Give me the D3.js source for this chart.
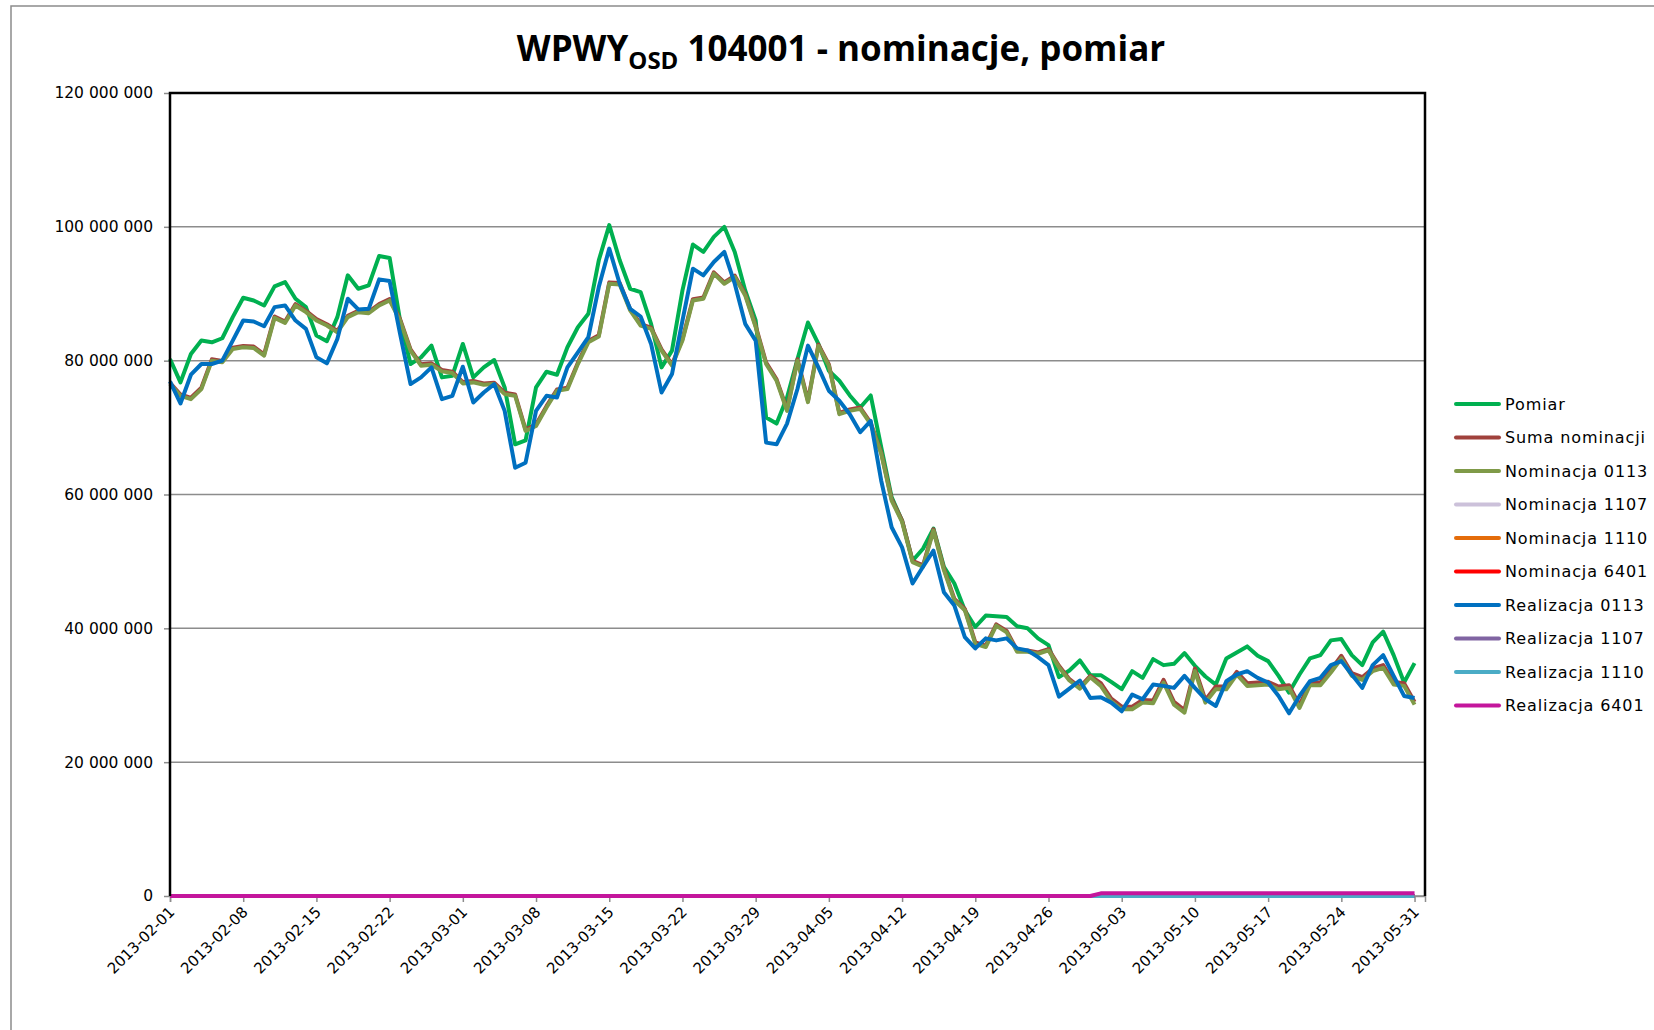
<!DOCTYPE html>
<html>
<head>
<meta charset="utf-8">
<script src="https://cdn.jsdelivr.net/npm/d3@7"></script>
<style>
  html, body { margin: 0; padding: 0; background: #fff; }
  svg { display: block; }
</style>
</head>
<body>
<svg id="chart" width="1654" height="1030"></svg>
<script>
// wartości w milionach
const UNIT = 1e6

const startDate = "2013-02-01"
const endDate = "2013-06-01"

const tickLabels = [
  "2013-02-01", "2013-02-08", "2013-02-15", "2013-02-22", "2013-03-01", "2013-03-08",
  "2013-03-15", "2013-03-22", "2013-03-29", "2013-04-05", "2013-04-12", "2013-04-19",
  "2013-04-26", "2013-05-03", "2013-05-10", "2013-05-17", "2013-05-24", "2013-05-31"
]

const yTicks = [0, 20, 40, 60, 80, 100, 120]

const pomiar = [
  80.25, 76.75, 81.0, 83.0, 82.75, 83.35, 86.5, 89.4, 89.0, 88.25,
  91.1, 91.75, 89.25, 88.0, 83.75, 82.9, 86.5, 92.75, 90.75, 91.25,
  95.65, 95.35, 86.0, 79.5, 80.5, 82.25, 77.5, 77.75, 82.5, 77.5,
  79.0, 80.1, 76.0, 67.5, 68.1, 76.0, 78.35, 77.9, 82.0, 85.0,
  87.0, 95.0, 100.25, 95.0, 90.75, 90.25, 85.5, 79.0, 81.5, 90.5,
  97.35, 96.25, 98.5, 100.0, 96.25, 90.5, 86.0, 71.5, 70.6, 74.5,
  80.25, 85.7, 82.5, 78.5, 77.0, 74.8, 73.0, 74.8, 67.1, 59.6,
  56.1, 50.1, 51.9, 54.9, 49.2, 46.7, 42.7, 40.2, 41.9, 41.8,
  41.7, 40.3, 40.0, 38.5, 37.5, 32.7, 33.7, 35.2, 33.0, 33.0,
  32.0, 30.9, 33.6, 32.6, 35.4, 34.5, 34.7, 36.3, 34.4, 32.8,
  31.6, 35.5, 36.4, 37.3, 35.9, 35.1, 32.9, 30.4, 33.1, 35.5,
  36.0, 38.2, 38.4, 36.0, 34.5, 37.9, 39.5, 36.0, 31.9, 34.8
]

const sumaNominacji = [
  76.7, 74.95, 74.45, 75.95, 80.2, 79.95, 81.95, 82.2, 82.1, 80.95,
  86.6, 85.85, 88.45, 87.45, 86.2, 85.45, 84.45, 86.7, 87.45, 87.3,
  88.45, 89.2, 86.2, 81.7, 79.45, 79.6, 78.6, 78.35, 76.8, 76.95,
  76.6, 76.7, 75.2, 74.95, 69.7, 70.45, 73.2, 75.7, 75.95, 79.7,
  82.95, 83.8, 91.7, 91.6, 87.7, 85.45, 84.95, 81.7, 79.45, 83.2,
  89.2, 89.45, 93.2, 91.7, 92.7, 89.95, 85.2, 79.7, 77.2, 72.7,
  80.2, 74.0, 82.4, 79.45, 72.2, 72.7, 73.0, 70.7, 66.3, 59.3,
  56.1, 50.1, 49.4, 54.8, 48.9, 44.4, 42.9, 37.9, 37.4, 40.6,
  39.6, 36.7, 36.7, 36.4, 36.9, 34.4, 32.4, 31.2, 32.9, 31.8,
  29.5, 28.3, 28.3, 29.3, 29.2, 32.3, 29.0, 27.8, 34.0, 29.3,
  31.3, 31.3, 33.5, 31.8, 31.9, 32.0, 31.3, 31.5, 28.5, 31.9,
  31.9, 33.8, 35.9, 33.3, 32.7, 34.0, 34.5, 32.0, 31.8, 29.0
]

const nominacja0113 = [
  76.5, 74.75, 74.25, 75.75, 80.0, 79.75, 81.75, 82.0, 81.9, 80.75,
  86.4, 85.65, 88.25, 87.25, 86.0, 85.25, 84.25, 86.5, 87.25, 87.1,
  88.25, 89.0, 86.0, 81.5, 79.25, 79.4, 78.4, 78.15, 76.6, 76.75,
  76.4, 76.5, 75.0, 74.75, 69.5, 70.25, 73.0, 75.5, 75.75, 79.5,
  82.75, 83.6, 91.5, 91.4, 87.5, 85.25, 84.75, 81.5, 79.25, 83.0,
  89.0, 89.25, 93.0, 91.5, 92.5, 89.75, 85.0, 79.5, 77.0, 72.5,
  80.0, 73.8, 82.2, 79.25, 72.0, 72.5, 72.8, 70.5, 66.1, 59.1,
  55.9, 49.9, 49.2, 54.6, 48.7, 44.2, 42.7, 37.7, 37.2, 40.4,
  39.4, 36.5, 36.5, 36.2, 36.7, 34.2, 32.2, 31.0, 32.7, 31.4,
  29.1, 27.9, 27.9, 28.9, 28.8, 31.9, 28.6, 27.4, 33.6, 28.9,
  30.9, 30.9, 33.1, 31.4, 31.5, 31.6, 30.9, 31.1, 28.1, 31.5,
  31.5, 33.4, 35.5, 32.9, 32.3, 33.6, 34.1, 31.6, 31.4, 28.6
]

const zera = [
  0, 0, 0, 0, 0, 0, 0, 0, 0, 0, 0, 0, 0, 0, 0, 0, 0, 0, 0, 0,
  0, 0, 0, 0, 0, 0, 0, 0, 0, 0, 0, 0, 0, 0, 0, 0, 0, 0, 0, 0,
  0, 0, 0, 0, 0, 0, 0, 0, 0, 0, 0, 0, 0, 0, 0, 0, 0, 0, 0, 0,
  0, 0, 0, 0, 0, 0, 0, 0, 0, 0, 0, 0, 0, 0, 0, 0, 0, 0, 0, 0,
  0, 0, 0, 0, 0, 0, 0, 0, 0, 0, 0, 0, 0, 0, 0, 0, 0, 0, 0, 0,
  0, 0, 0, 0, 0, 0, 0, 0, 0, 0, 0, 0, 0, 0, 0, 0, 0, 0, 0, 0
]
const nominacja1107 = zera
const nominacja1110 = zera
const nominacja6401 = zera

const realizacja0113 = [
  76.9, 73.6, 77.9, 79.5, 79.5, 80.0, 83.0, 86.0, 85.85, 85.15,
  88.0, 88.25, 86.0, 84.75, 80.5, 79.6, 83.25, 89.25, 87.65, 87.75,
  92.15, 91.9, 84.0, 76.5, 77.5, 79.0, 74.25, 74.75, 79.1, 73.75,
  75.25, 76.5, 72.5, 64.0, 64.75, 72.5, 74.75, 74.5, 79.0, 81.25,
  83.5, 91.0, 96.75, 91.5, 87.75, 86.6, 82.5, 75.25, 78.0, 86.0,
  93.75, 92.75, 94.75, 96.25, 91.5, 85.5, 83.0, 67.75, 67.5, 70.6,
  75.8, 82.25, 79.0, 75.5, 74.0, 72.0, 69.3, 71.0, 62.1, 55.1,
  52.1, 46.7, 49.2, 51.6, 45.4, 43.4, 38.7, 37.0, 38.5, 38.2,
  38.5, 37.0, 36.7, 35.7, 34.5, 29.8, 31.0, 32.2, 29.6, 29.7,
  28.9, 27.6, 30.1, 29.4, 31.6, 31.4, 31.1, 32.9, 31.1, 29.4,
  28.4, 32.1, 33.1, 33.6, 32.6, 31.9, 29.9, 27.3, 29.9, 32.1,
  32.6, 34.5, 35.1, 33.1, 31.1, 34.5, 36.0, 32.9, 29.9, 29.6
]

const realizacja1107 = zera
const realizacja1110 = zera

const realizacja6401 = [
  0, 0, 0, 0, 0, 0, 0, 0, 0, 0, 0, 0, 0, 0, 0, 0, 0, 0, 0, 0,
  0, 0, 0, 0, 0, 0, 0, 0, 0, 0, 0, 0, 0, 0, 0, 0, 0, 0, 0, 0,
  0, 0, 0, 0, 0, 0, 0, 0, 0, 0, 0, 0, 0, 0, 0, 0, 0, 0, 0, 0,
  0, 0, 0, 0, 0, 0, 0, 0, 0, 0, 0, 0, 0, 0, 0, 0, 0, 0, 0, 0,
  0, 0, 0, 0, 0, 0, 0, 0, 0, 0.4, 0.4, 0.4, 0.4, 0.4, 0.4, 0.4, 0.4, 0.4, 0.4, 0.4,
  0.4, 0.4, 0.4, 0.4, 0.4, 0.4, 0.4, 0.4, 0.4, 0.4, 0.4, 0.4, 0.4, 0.4, 0.4, 0.4, 0.4, 0.4, 0.4, 0.4
]

const series = [
  { name: "Pomiar", values: pomiar, color: "#00B050" },
  { name: "Suma nominacji", values: sumaNominacji, color: "#A0413C" },
  { name: "Nominacja 0113", values: nominacja0113, color: "#7F9A48" },
  { name: "Nominacja 1107", values: nominacja1107, color: "#CCC1DA" },
  { name: "Nominacja 1110", values: nominacja1110, color: "#E46C0A" },
  { name: "Nominacja 6401", values: nominacja6401, color: "#FF0000" },
  { name: "Realizacja 0113", values: realizacja0113, color: "#0070C0" },
  { name: "Realizacja 1107", values: realizacja1107, color: "#8064A2" },
  { name: "Realizacja 1110", values: realizacja1110, color: "#4BACC6" },
  { name: "Realizacja 6401", values: realizacja6401, color: "#C4169C" }
]

const parse = d3.utcParse("%Y-%m-%d")
const dates = d3.utcDay.range(parse(startDate), parse(endDate))

const plot = { left: 170, right: 1425, top: 93, bottom: 896 }
const font = "DejaVu Sans, sans-serif"

const svg = d3.select("#chart")

const x = d3.scaleUtc()
  .domain([parse(startDate), parse(endDate)])
  .range([plot.left, plot.right])

const y = d3.scaleLinear()
  .domain([0, 120 * UNIT])
  .range([plot.bottom, plot.top])

const fmt = d3.formatLocale({ decimal: ",", thousands: " ", grouping: [3], currency: ["", ""] }).format(",.0f")

// ramka wykresu
svg.append("path")
  .attr("d", "M11,1030 V6 H1654")
  .attr("fill", "none")
  .attr("stroke", "#8c8c8c")
  .attr("stroke-width", 1.5)

// tytuł
const title = svg.append("text")
  .attr("x", 841)
  .attr("y", 61)
  .attr("text-anchor", "middle")
  .attr("font-family", "Open Sans, sans-serif")
  .attr("font-weight", "bold")
  .attr("font-size", 35)
  .attr("fill", "#000")
title.append("tspan").text("WPWY")
title.append("tspan").attr("font-size", 24).attr("dy", 8).text("OSD")
title.append("tspan").attr("dy", -8).text(" 104001 - nominacje, pomiar")

// siatka
svg.append("g")
  .selectAll("line")
  .data(yTicks)
  .join("line")
  .attr("x1", plot.left)
  .attr("x2", plot.right)
  .attr("y1", d => y(d * UNIT))
  .attr("y2", d => y(d * UNIT))
  .attr("stroke", "#8c8c8c")
  .attr("stroke-width", 1.5)

// oś Y
const yAxis = svg.append("g")
  .attr("transform", `translate(${plot.left},0)`)
  .call(d3.axisLeft(y)
    .tickValues(yTicks.map(d => d * UNIT))
    .tickSize(6)
    .tickPadding(11)
    .tickFormat(fmt))
yAxis.select(".domain").remove()
yAxis.selectAll(".tick line").attr("stroke", "#8c8c8c").attr("stroke-width", 1.5)
yAxis.selectAll(".tick text")
  .attr("font-family", font)
  .attr("font-size", 15.5)
  .attr("fill", "#000")

// oś X
const xAxis = svg.append("g")
  .attr("transform", `translate(0,${plot.bottom})`)
  .call(d3.axisBottom(x)
    .tickValues(tickLabels.map(parse))
    .tickSize(6)
    .tickFormat(d3.utcFormat("%Y-%m-%d")))
xAxis.select(".domain").attr("stroke", "#8c8c8c").attr("stroke-width", 1.5)
xAxis.selectAll(".tick line").attr("stroke", "#8c8c8c").attr("stroke-width", 1.5)
xAxis.selectAll(".tick text")
  .attr("font-family", font)
  .attr("font-size", 15)
  .attr("fill", "#000")
  .attr("text-anchor", "end")
  .attr("dy", 0)
  .attr("y", 0)
  .attr("transform", "translate(5,17) rotate(-45)")

// linie serii
const line = d3.line()
  .x((d, i) => x(dates[i]))
  .y(d => y(d * UNIT))

svg.append("g")
  .selectAll("path")
  .data(series)
  .join("path")
  .attr("d", d => line(d.values))
  .attr("fill", "none")
  .attr("stroke", d => d.color)
  .attr("stroke-width", 4)
  .attr("stroke-linejoin", "round")

// obramowanie obszaru wykresu
svg.append("path")
  .attr("d", `M${plot.left},${plot.bottom} V${plot.top} H${plot.right} V${plot.bottom}`)
  .attr("fill", "none")
  .attr("stroke", "#000")
  .attr("stroke-width", 2.5)

// legenda
const legend = svg.append("g")
  .attr("transform", "translate(1456,404)")

const item = legend.selectAll("g")
  .data(series)
  .join("g")
  .attr("transform", (d, i) => `translate(0,${i * 33.5})`)

item.append("line")
  .attr("x1", 0)
  .attr("x2", 43)
  .attr("stroke", d => d.color)
  .attr("stroke-width", 4)
  .attr("stroke-linecap", "round")

item.append("text")
  .attr("x", 49)
  .attr("dy", "0.35em")
  .attr("font-family", font)
  .attr("font-size", 16)
  .attr("letter-spacing", 0.9)
  .attr("fill", "#000")
  .text(d => d.name)
</script>
</body>
</html>
